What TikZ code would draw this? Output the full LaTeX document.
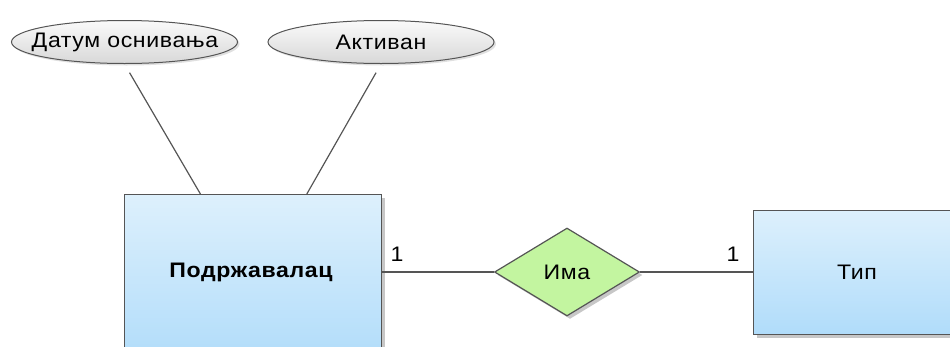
\documentclass[tikz,border=0pt]{standalone}
\usepackage{fontspec}
\setmainfont[FakeStretch=1.1, LetterSpace=3]{Liberation Sans}
\usetikzlibrary{shapes.geometric,shadows,calc}
\definecolor{edgegray}{HTML}{555555}
\definecolor{enttop}{HTML}{DDF0FC}
\definecolor{entbot}{HTML}{B0DCFA}
\definecolor{relfill}{HTML}{C3F5A0}
\definecolor{attrtop}{HTML}{FAFAFA}
\definecolor{attrbot}{HTML}{D8D8D8}
\begin{document}
\begin{tikzpicture}[x=1pt,y=1pt,
  font=\fontsize{21}{25}\selectfont,
  entity/.style={draw=edgegray, line width=1.2pt, rectangle, inner sep=0pt,
    top color=enttop, bottom color=entbot,
    drop shadow={shadow xshift=3pt, shadow yshift=-3pt, fill=black!22, opacity=1}},
  relation/.style={draw=edgegray, line width=1.2pt, diamond, aspect=1.65,
    inner sep=0pt, fill=relfill, minimum width=145pt, minimum height=88pt,
    drop shadow={shadow xshift=3pt, shadow yshift=-3pt, fill=black!22, opacity=1}},
  attribute/.style={draw=edgegray, line width=1pt, ellipse, inner sep=0pt,
    minimum width=226pt, minimum height=43pt,
    top color=attrtop, bottom color=attrbot,
    drop shadow={shadow xshift=2pt, shadow yshift=-2pt, fill=black!12, opacity=1}},
  link/.style={draw=edgegray, line width=1.2pt},
  card/.style={inner sep=0pt}]
\useasboundingbox (0,0) rectangle (950,-346);
\clip (0,0) rectangle (950,-346);

% attributes
\node[attribute] (datum) at (124.5,-42) {};
\node (datumlbl) at (125,-42) {Датум оснивања};
\node[attribute] (aktivan) at (381,-42) {};
\node (aktivanlbl) at (381,-42) {Активан};

% entities (both run past the picture edge)
\node[entity, minimum width=257pt, minimum height=170pt, anchor=north west]
  (podr) at (124,-194) {};
\node[font=\fontsize{21}{25}\selectfont\bfseries] (podrlbl) at (251,-272) {Подржавалац};
\node[entity, minimum width=220pt, minimum height=124pt, anchor=north west]
  (tip) at (753,-210) {};
\node (tiplbl) at (857,-272) {Тип};

% relationship
\node[relation] (ima) at (567,-272) {};
\node (imalbl) at (567,-272) {Има};

% connectors
\coordinate (podrA) at ($(podr.north west)!0.296!(podr.north east)$);
\coordinate (podrB) at ($(podr.north west)!0.708!(podr.north east)$);
\draw[link, shorten <=10pt] (datum.south) -- (podrA);
\draw[link, shorten <=10pt] (aktivan.south) -- (podrB);
\draw[link] (podr.east |- ima.west) -- (ima.west);
\draw[link] (ima.east) -- (tip.west |- ima.east);

% cardinalities
\node[card] (c1) at (397,-254) {1};
\node[card] (c2) at (733,-254) {1};
\end{tikzpicture}
\end{document}
